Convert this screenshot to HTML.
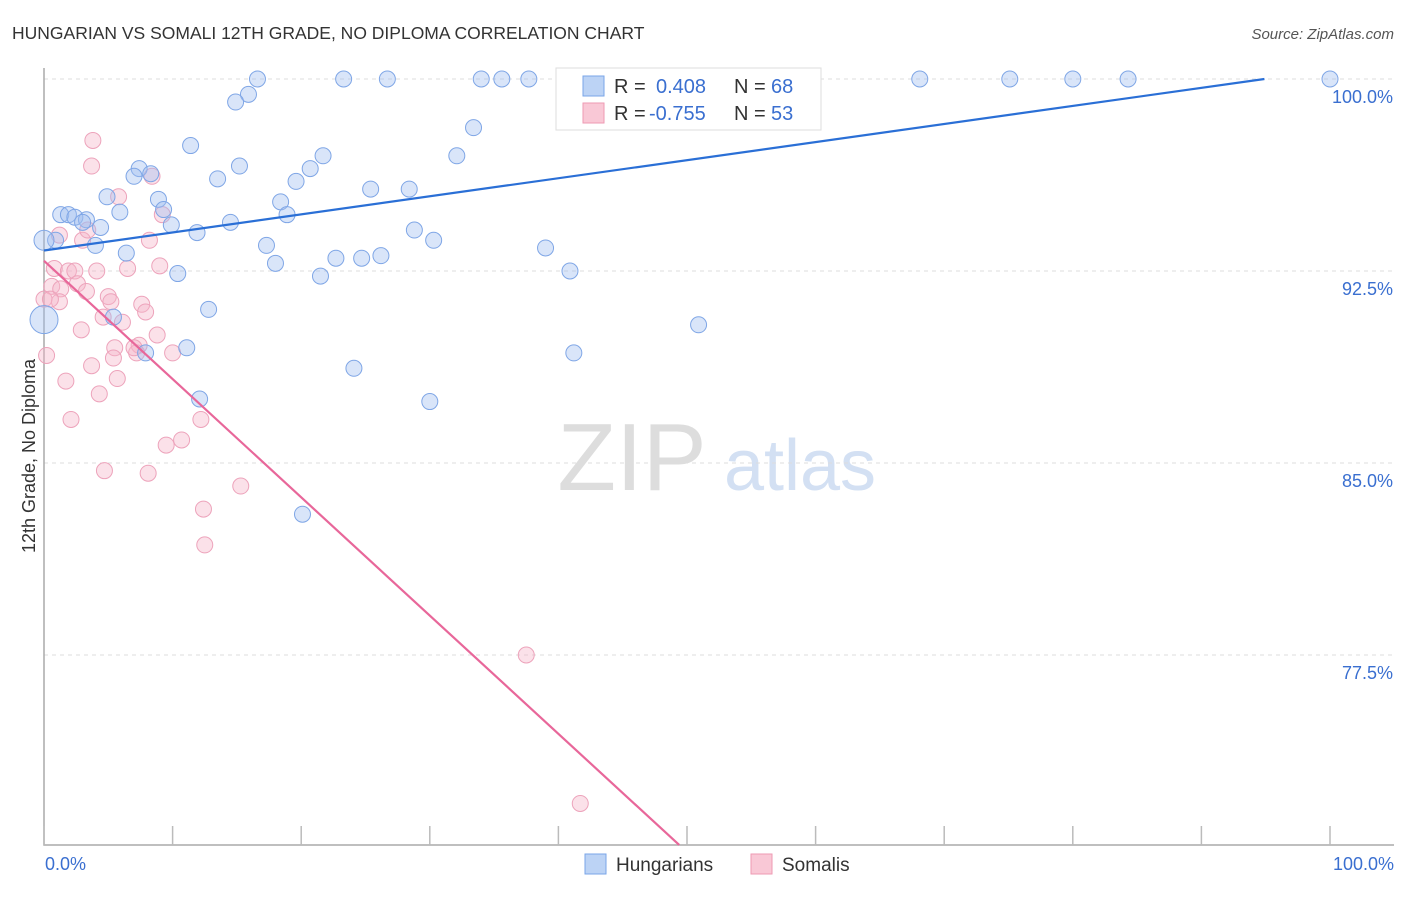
<!DOCTYPE html>
<html><head><meta charset="utf-8"><style>
body{margin:0;background:#fff;font-family:"Liberation Sans",sans-serif;}
svg text{font-family:"Liberation Sans",sans-serif;}
</style></head><body>
<svg id="chart" width="1406" height="892" viewBox="0 0 1406 892" xmlns="http://www.w3.org/2000/svg">
<text x="12" y="39" font-size="17.5" fill="#333">HUNGARIAN VS SOMALI 12TH GRADE, NO DIPLOMA CORRELATION CHART</text>
<text x="1394" y="39" font-size="15" fill="#555" text-anchor="end" font-style="italic">Source: ZipAtlas.com</text>
<g>
<text x="632" y="490" font-size="96" fill="#ddd" text-anchor="middle" font-family="Liberation Serif">ZIP</text>
<text x="800" y="490" font-size="72" fill="#d3e0f3" text-anchor="middle">atlas</text>
</g>
<g id="grid"></g>
<g id="axes"></g>
<g id="points"></g>
<g id="lines"></g>
<text transform="translate(35,456) rotate(-90)" font-size="18" fill="#333" text-anchor="middle">12th Grade, No Diploma</text>
<g>
<rect x="556" y="68" width="265" height="62" fill="#fff" stroke="#ddd"/>
<rect x="583" y="76" width="21" height="20" fill="#bcd3f5" stroke="#7aa6e8"/>
<text x="614" y="93" font-size="20" fill="#333">R =</text>
<text x="656" y="93" font-size="20" fill="#3a6fd0">0.408</text>
<text x="734" y="93" font-size="20" fill="#333">N =</text>
<text x="771" y="93" font-size="20" fill="#3a6fd0">68</text>
<rect x="583" y="103" width="21" height="20" fill="#f9c8d6" stroke="#ee9ab3"/>
<text x="614" y="120" font-size="20" fill="#333">R =</text>
<text x="649" y="120" font-size="20" fill="#3a6fd0">-0.755</text>
<text x="734" y="120" font-size="20" fill="#333">N =</text>
<text x="771" y="120" font-size="20" fill="#3a6fd0">53</text>
</g>
<g>
<rect x="585" y="854" width="21" height="20" fill="#bcd3f5" stroke="#7aa6e8"/>
<text x="616" y="871" font-size="19" fill="#333">Hungarians</text>
</g>
<g>
<rect x="751" y="854" width="21" height="20" fill="#f9c8d6" stroke="#ee9ab3"/>
<text x="782" y="871" font-size="19" fill="#333">Somalis</text>
</g>
</svg>
<script>
const yTicks=[100,92.5,85,77.5];
const yTickLabels=["100.0%","92.5%","85.0%","77.5%"];
const xTicks=[0,10,20,30,40,50,60,70,80,90,100];
const xTickLabels=["0.0%","100.0%"];
const hunX=[16.6,23.3,26.7,34.0,35.6,37.7,53.9,68.1,75.1,80.0,84.3,100,15.9,14.9,33.4,11.4,32.1,21.7,7.4,15.2,20.7,8.3,7.0,13.5,19.6,25.4,28.4,4.9,8.9,18.4,9.3,5.9,1.3,1.9,2.4,3.3,3.0,18.9,14.5,9.9,4.4,28.8,11.9,0.9,30.3,4.0,17.3,39.0,6.4,22.7,24.7,26.2,18.0,40.9,10.4,21.5,12.8,5.4,50.9,11.1,7.9,41.2,24.1,12.1,30.0,20.1,0,0];
const hunY=[100,100,100,100,100,100,100,100,100,100,100,100,99.4,99.1,98.1,97.4,97.0,97.0,96.5,96.6,96.5,96.3,96.2,96.1,96.0,95.7,95.7,95.4,95.3,95.2,94.9,94.8,94.7,94.7,94.6,94.5,94.4,94.7,94.4,94.3,94.2,94.1,94.0,93.7,93.7,93.5,93.5,93.4,93.2,93.0,93.0,93.1,92.8,92.5,92.4,92.3,91.0,90.7,90.4,89.5,89.3,89.3,88.7,87.5,87.4,83.0,90.6,93.7];
const somX=[3.8,3.7,5.8,8.4,9.2,1.2,3.0,8.2,3.4,0.8,4.1,6.5,9.0,1.9,2.4,0.6,1.3,2.6,3.3,0,1.2,5.0,5.2,7.6,4.6,7.9,6.1,2.9,8.8,5.5,7.4,10.0,5.4,7.2,0.2,3.7,1.7,5.7,4.3,2.1,12.2,10.7,9.5,4.7,8.1,15.3,12.4,12.5,37.5,41.7,0.5,7.0];
const somY=[97.6,96.6,95.4,96.2,94.7,93.9,93.7,93.7,94.1,92.6,92.5,92.6,92.7,92.5,92.5,91.9,91.8,92.0,91.7,91.4,91.3,91.5,91.3,91.2,90.7,90.9,90.5,90.2,90.0,89.5,89.6,89.3,89.1,89.3,89.2,88.8,88.2,88.3,87.7,86.7,86.7,85.9,85.7,84.7,84.6,84.1,83.2,81.8,77.5,71.7,91.4,89.5];
const hunTrend=[93.3,0.0706];
const somTrend=[92.9,-0.462];
const X=v=>44+v*12.86, Y=v=>79+(100-v)*25.6;
const NS="http://www.w3.org/2000/svg";
function mk(t,a,p){const e=document.createElementNS(NS,t);for(const k in a)e.setAttribute(k,a[k]);p.appendChild(e);return e;}
const grid=document.getElementById('grid'),axes=document.getElementById('axes'),pts=document.getElementById('points'),lines=document.getElementById('lines');
yTicks.forEach((v,i)=>{
 const l=mk('line',{x1:44,x2:1394,y1:Y(v),y2:Y(v),stroke:'#ddd','stroke-dasharray':'4,4'},grid);
 
 
 const t=mk('text',{x:1393,y:Y(v)+24,'font-size':18,fill:'#3a6fd0','text-anchor':'end'},axes);
 t.textContent=yTickLabels[i];
 
 
});
const ax=mk('path',{d:'M44 68 V845 H1394',fill:'none',stroke:'#aaa','stroke-width':1.5},axes);


xTicks.forEach(v=>{
 const l=mk('line',{x1:X(v),x2:X(v),y1:826,y2:845,stroke:'#bbb','stroke-width':1.5},axes);
 
 
});
[[0,'start',45],[100,'end',1394]].forEach((d,i)=>{
 const t=mk('text',{x:d[2],y:870,'font-size':18,fill:'#3a6fd0','text-anchor':d[1]},axes);
 t.textContent=xTickLabels[i];
 
 
});
somX.forEach((x,i)=>{
 const c=mk('circle',{cx:X(x),cy:Y(somY[i]),r:8,fill:'rgba(246,180,200,0.4)',stroke:'#eda3bb','stroke-width':1},pts);
 
 
});
hunX.forEach((x,i)=>{
 const r=i==hunX.length-2?14:(i==hunX.length-1?10:8);
 const c=mk('circle',{cx:X(x),cy:Y(hunY[i]),r:r,fill:'rgba(160,190,240,0.4)',stroke:'#7fa6e6','stroke-width':1},pts);
 
 
});
function trend(p,color,name){
 let x2=100,y2=p[0]+p[1]*100;
 if(y2>100){x2=(100-p[0])/p[1];y2=100;}
 if(y2<70.08){x2=(70.08-p[0])/p[1];y2=70.08;}
 const l=mk('line',{x1:X(0),y1:Y(p[0]),x2:X(x2),y2:Y(y2),stroke:color,'stroke-width':2.2},lines);
 
 
}
trend(hunTrend,'#2a6fd6','hungarian-trendline');
trend(somTrend,'#e8679a','somali-trendline');
</script>
</body></html>
